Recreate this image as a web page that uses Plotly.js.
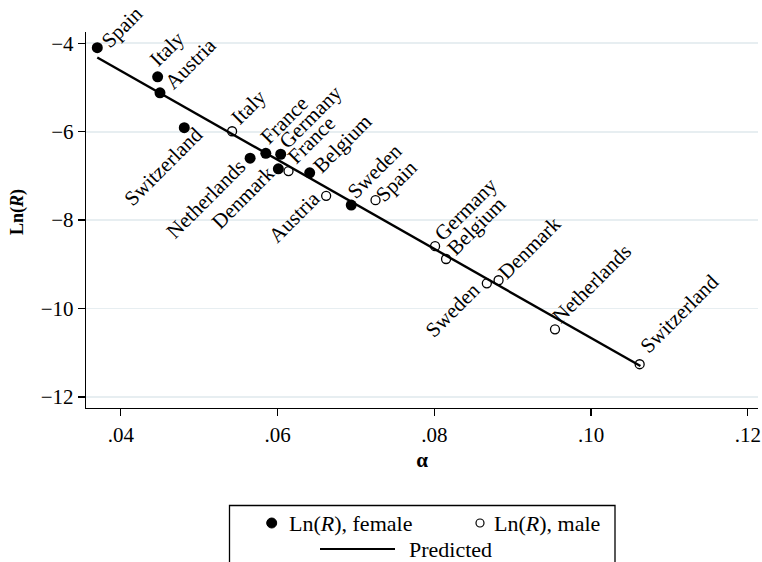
<!DOCTYPE html>
<html>
<head>
<meta charset="utf-8">
<script src="https://cdn.plot.ly/plotly-3.0.1.min.js"></script>
<style>html,body{margin:0;padding:0;background:#fff;}#chart{width:762px;height:562px;}</style>
</head>
<body>
<div id="chart"></div>
<script>
// ---- data ----
const countriesF = ['Spain','Italy','Austria','Switzerland','Netherlands','France','Germany','Denmark','Belgium','Sweden'];
const alphaF = [0.0370,0.0447,0.0450,0.0481,0.0565,0.0585,0.0604,0.0601,0.0641,0.0694];
const lnRF   = [-4.10,-4.76,-5.12,-5.91,-6.60,-6.49,-6.51,-6.84,-6.93,-7.66];

const countriesM = ['Italy','France','Austria','Spain','Germany','Belgium','Sweden','Denmark','Netherlands','Switzerland'];
const alphaM = [0.0542,0.0614,0.0662,0.0725,0.0801,0.0815,0.0867,0.0882,0.0954,0.1062];
const lnRM   = [-5.99,-6.89,-7.45,-7.55,-8.59,-8.88,-9.43,-9.36,-10.47,-11.26];

const predAlpha = [0.0370, 0.1063];
const predLnR   = [-4.32, -11.30];

const xTickVals = [0.04,0.06,0.08,0.10,0.12];
const xTickText = ['.04','.06','.08','.10','.12'];
const yTickVals = [-4,-6,-8,-10,-12];

const xTitle = '<b>α</b>';
const yTitle = '<b>Ln(<i>R</i>)</b>';
const legendLabels = ['Ln(<i>R</i>), female','Ln(<i>R</i>), male','Predicted'];

// ---- label placement (style): side R = text goes up-right from point, L = text ends at point ----
const sideF = ['R','R','R','L','L','R','R','L','R','R'];
const offF  = [[6,-2],[-6,-12],[7,-6],[17,1],[-7,3],[-3,-11],[0,-8],[-5,-1],[5,-2],[-2,-9]];
const sideM = ['R','R','L','R','R','R','L','R','R','R'];
const offM  = [[1,-9],[1,-9],[-8,-3],[2,-1],[1,-8],[3,-6],[-9,1],[1,-3],[-1,-8],[2,-13]];

const FONT = 'Liberation Serif, Times New Roman, serif';
const LABEL_SIZE = 21;
const K = 9.6; // half of rotated box offset

function makeLabels(names, xs, ys, sides, offs){
  return names.map((n,i)=>{
    const [a,b] = offs[i];
    const right = sides[i]==='R';
    return {
      x: xs[i], y: ys[i], xref:'x', yref:'y', text: n, showarrow:false,
      textangle:-45,
      xanchor: right?'left':'right', yanchor: right?'bottom':'top',
      xshift: right ? a-K : a+K,
      yshift: right ? -(b+K) : -(b-K),
      font:{family:FONT,size:LABEL_SIZE,color:'#000'}
    };
  });
}

const traces = [
  {x:predAlpha, y:predLnR, mode:'lines', line:{color:'#000',width:2.4}, hoverinfo:'skip', showlegend:false},
  {x:alphaF, y:lnRF, mode:'markers', marker:{symbol:'circle',size:11,color:'#000'}, showlegend:false},
  {x:alphaM, y:lnRM, mode:'markers', marker:{symbol:'circle-open',size:9,color:'#000',line:{width:1.3,color:'#000'}}, showlegend:false}
];

// legend geometry in paper coords (plot area 86..758 x 32..408 px)
const px = v => (v-86)/672;
const py = v => (408-v)/376;

const annotations = [
  ...makeLabels(countriesF, alphaF, lnRF, sideF, offF),
  ...makeLabels(countriesM, alphaM, lnRM, sideM, offM),
  {x:px(17), y:py(212), xref:'paper', yref:'paper', text:yTitle, showarrow:false, textangle:-90, xanchor:'center', yanchor:'middle', font:{family:FONT,size:18,color:'#000'}},
  {x:px(286.5), y:py(523), xref:'paper', yref:'paper', text:legendLabels[0], showarrow:false, xanchor:'left', yanchor:'middle', font:{family:FONT,size:22,color:'#000'}},
  {x:px(491.5), y:py(523), xref:'paper', yref:'paper', text:legendLabels[1], showarrow:false, xanchor:'left', yanchor:'middle', font:{family:FONT,size:22,color:'#000'}},
  {x:px(407), y:py(549), xref:'paper', yref:'paper', text:legendLabels[2], showarrow:false, xanchor:'left', yanchor:'middle', font:{family:FONT,size:22,color:'#000'}}
];

const shapes = [
  {type:'rect', xref:'paper', yref:'paper', x0:px(229.5), x1:px(615), y0:py(505.5), y1:py(600), line:{color:'#000',width:1.3}, fillcolor:'rgba(0,0,0,0)'},
  {type:'circle', xref:'paper', yref:'paper', xsizemode:'pixel', ysizemode:'pixel', xanchor:px(271.7), yanchor:py(523), x0:-5, x1:5, y0:-5, y1:5, fillcolor:'#000', line:{color:'#000',width:1}},
  {type:'circle', xref:'paper', yref:'paper', xsizemode:'pixel', ysizemode:'pixel', xanchor:px(480), yanchor:py(523), x0:-4, x1:4, y0:-4, y1:4, fillcolor:'rgba(0,0,0,0)', line:{color:'#000',width:1.2}},
  {type:'line', xref:'paper', yref:'paper', x0:px(320), x1:px(395), y0:py(549), y1:py(549), line:{color:'#000',width:2}}
];

const layout = {
  width:762, height:562,
  margin:{l:86, r:4, t:32, b:154, pad:0},
  paper_bgcolor:'#fff', plot_bgcolor:'#fff',
  font:{family:FONT, color:'#000', size:21},
  showlegend:false,
  xaxis:{
    range:[0.03556,0.1213], tickvals:xTickVals, ticktext:xTickText,
    showgrid:false, zeroline:false, showline:true, linecolor:'#000', linewidth:1.3,
    ticks:'outside', ticklen:7, tickwidth:1.3, tickcolor:'#000',
    tickfont:{family:FONT,size:21,color:'#000'},
    title:{text:xTitle, font:{family:FONT,size:21,color:'#000'}, standoff:6}
  },
  yaxis:{
    range:[-12.25,-3.745], tickvals:yTickVals,
    showgrid:true, gridcolor:'#e7eef1', gridwidth:1.8, zeroline:false,
    showline:true, linecolor:'#000', linewidth:1.3,
    ticks:'outside', ticklen:7, tickwidth:1.3, tickcolor:'#000',
    tickfont:{family:FONT,size:21,color:'#000'}
  },
  annotations: annotations,
  shapes: shapes
};

Plotly.newPlot('chart', traces, layout, {staticPlot:true, displayModeBar:false});
</script>
</body>
</html>
